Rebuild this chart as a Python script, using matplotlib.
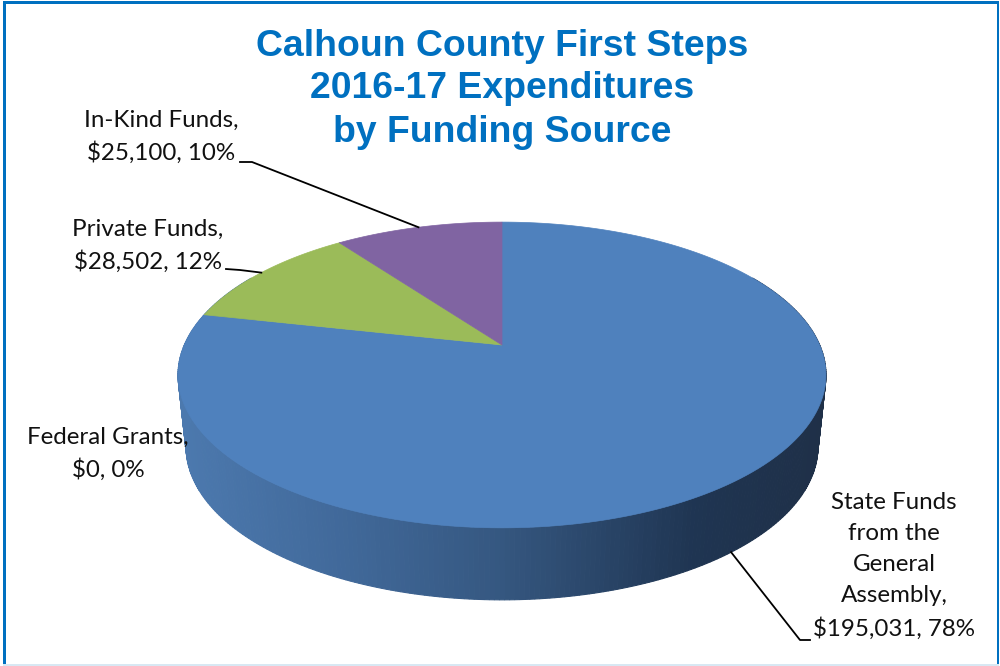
import numpy as np
import matplotlib
matplotlib.use("Agg")
import matplotlib.pyplot as plt
from matplotlib.colors import LinearSegmentedColormap
from matplotlib.patches import Polygon, Rectangle

# Chart data
names = ["State Funds\nfrom the\nGeneral\nAssembly,", "Federal Grants,", "Private Funds,", "In-Kind Funds,"]
amounts = [195031, 0, 28502, 25100]
percents = [78, 0, 12, 10]
colors = ["#4f81bd", "#c0504d", "#9bbb59", "#8064a2"]
title_lines = ["Calhoun County First Steps", "2016-17 Expenditures", "by Funding Source"]

# Pie geometry, in image pixels
cx, cy = 502, 345
rx, ry = 317.7, 147
persp = 0.196
depth = 72
shrink = 0.975


def rim(angle):
    # angle in degrees, clockwise from the top of the pie
    a = np.radians(angle)
    w = 1 + persp * np.cos(a)
    return cx + rx * np.sin(a) / w, cy - ry * np.cos(a) / w


def lower_rim(angle):
    x, y = rim(angle)
    return cx + (x - cx) * shrink, y + depth


fig = plt.figure(figsize=(10, 6.66), dpi=100)
ax = fig.add_axes([0, 0, 1, 1])
ax.set_xlim(0, 1000)
ax.set_ylim(666, 0)
ax.axis("off")

# Frame
frame = "#0070c0"
ax.add_patch(Rectangle((3, 1), 994, 3, color=frame, lw=0))
ax.add_patch(Rectangle((3, 1), 3, 665, color=frame, lw=0))
ax.add_patch(Rectangle((997, 1), 2, 665, color=frame, lw=0))
ax.add_patch(Rectangle((3, 664), 996, 2, color="#d8e8f3", lw=0))

# Side of the pie: thin strips shaded along x
side = LinearSegmentedColormap.from_list(
    "side", [(0, "#4c79ae"), (0.25, "#41699a"), (0.5, "#355780"), (0.8, "#1f3552"), (1, "#1f3048")]
)
steps = np.linspace(60, 300, 320)
for a0, a1 in zip(steps[:-1], steps[1:]):
    x0, y0 = rim(a0)
    x1, y1 = rim(a1)
    x2, y2 = lower_rim(a1)
    x3, y3 = lower_rim(a0)
    shade = side(1 - (cx + 324 - (x0 + x1) / 2) / 648)
    ax.add_patch(Polygon([(x0, y0), (x1, y1), (x2, y2), (x3, y3)], closed=True,
                         facecolor=shade, edgecolor=shade, lw=0.8, zorder=2))

# Top face, slices from the values
total = sum(amounts)
shares = np.array(amounts) / total * 360
starts = np.concatenate([[0], np.cumsum(shares)[:-1]])
mids = starts + shares / 2
for start, share, color in zip(starts, shares, colors):
    if share == 0:
        continue
    angles = np.linspace(start, start + share, 200)
    xs, ys = rim(angles)
    pts = [(cx, cy)] + list(zip(xs, ys))
    ax.add_patch(Polygon(pts, closed=True, facecolor=color, edgecolor=color, lw=0.5, zorder=3))

# Title
for line, y in zip(title_lines, [46, 89, 132]):
    ax.text(502, y, line, ha="center", va="center", color=frame, fontsize=26.9,
            fontweight="bold", family="Liberation Sans", zorder=5)

# Data labels
labels = [f"{n}\n${v:,}, {p}%" for n, v, p in zip(names, amounts, percents)]
label_pos = [(894, 566), (108, 454), (148, 246), (161, 137)]
for text, (x, y) in zip(labels, label_pos):
    ax.text(x, y, text, ha="center", va="center", fontsize=17.4, family="Lato",
            color="#111111", linespacing=1.58, zorder=5)

# Leader lines
leader_bends = [[(810, 640), (800, 640)], None, [(226, 269), (240, 270)], [(240, 162), (252, 162)]]
for i, bend in enumerate(leader_bends):
    if bend is None:
        continue
    if i == 0:
        px, py = lower_rim(mids[i])
    else:
        px, py = rim(mids[i])
    if i == 0:
        xs = [px, bend[1][0], bend[0][0]]
        ys = [py, bend[1][1], bend[0][1]]
    else:
        xs = [bend[0][0], bend[1][0], px]
        ys = [bend[0][1], bend[1][1], py]
    ax.plot(xs, ys, color="black", lw=1.3, zorder=4, solid_joinstyle="round")

fig.savefig("out.png", dpi=100)
